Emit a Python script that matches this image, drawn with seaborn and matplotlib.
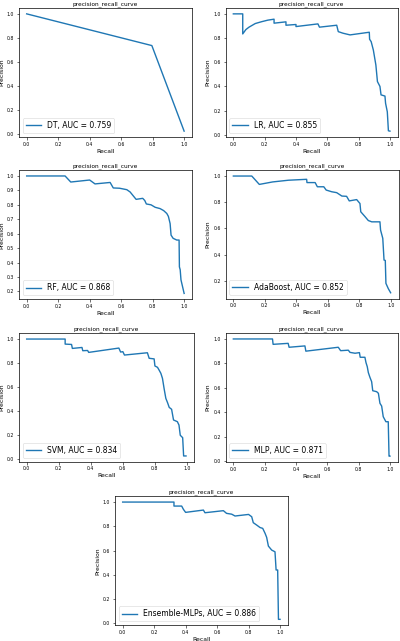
import matplotlib
matplotlib.use("Agg")
import matplotlib.pyplot as plt
import seaborn as sns
import pandas as pd

models = ["DT", "LR", "RF", "AdaBoost", "SVM", "MLP", "Ensemble-MLPs"]
aucs = [0.759, 0.855, 0.868, 0.852, 0.834, 0.871, 0.886]

dt_rec = [0.0, 0.795, 1.0]
dt_prec = [1.0, 0.735, 0.02]

lr_rec = [0.0, 0.06, 0.06, 0.08, 0.10, 0.14, 0.18, 0.22, 0.26, 0.26, 0.336, 0.336, 0.40, 0.40,
          0.54, 0.55, 0.66, 0.67, 0.70, 0.745, 0.868, 0.87, 0.88, 0.894, 0.91, 0.92, 0.936,
          0.943, 0.968, 0.972, 0.983, 0.99, 1.0]
lr_prec = [1.0, 1.0, 0.834, 0.87, 0.89, 0.92, 0.935, 0.948, 0.956, 0.923, 0.934, 0.906, 0.912, 0.895,
           0.917, 0.89, 0.906, 0.853, 0.84, 0.826, 0.848, 0.79, 0.77, 0.70, 0.577, 0.44, 0.40,
           0.33, 0.32, 0.26, 0.19, 0.033, 0.03]

rf_rec = [0.0, 0.244, 0.28, 0.40, 0.434, 0.53, 0.55, 0.59, 0.636, 0.657, 0.695, 0.737, 0.75, 0.76,
          0.79, 0.816, 0.847, 0.87, 0.89, 0.90, 0.911, 0.917, 0.93, 0.953, 0.968, 0.97, 0.975, 0.98, 1.0]
rf_prec = [1.0, 1.0, 0.958, 0.972, 0.945, 0.955, 0.917, 0.915, 0.905, 0.889, 0.838, 0.845, 0.83, 0.806,
           0.80, 0.783, 0.774, 0.76, 0.74, 0.72, 0.67, 0.59, 0.568, 0.556, 0.556, 0.37, 0.35, 0.28, 0.186]

ada_rec = [0.0, 0.117, 0.165, 0.25, 0.35, 0.466, 0.468, 0.52, 0.534, 0.575, 0.59, 0.625, 0.657, 0.69,
           0.72, 0.737, 0.784, 0.805, 0.81, 0.837, 0.858, 0.88, 0.932, 0.936, 0.95, 0.958, 0.966,
           0.97, 0.985, 1.0]
ada_prec = [1.0, 1.0, 0.936, 0.955, 0.968, 0.975, 0.95, 0.95, 0.918, 0.918, 0.893, 0.88, 0.873, 0.847,
            0.845, 0.81, 0.82, 0.79, 0.727, 0.69, 0.66, 0.65, 0.65, 0.587, 0.524, 0.358, 0.355,
            0.18, 0.14, 0.108]

svm_rec = [0.0, 0.24, 0.24, 0.28, 0.285, 0.345, 0.35, 0.38, 0.387, 0.575, 0.586, 0.60, 0.61, 0.753,
           0.764, 0.795, 0.80, 0.816, 0.826, 0.837, 0.847, 0.858, 0.868, 0.879, 0.889, 0.904, 0.916,
           0.94, 0.95, 0.958, 0.973, 0.979, 0.994]
svm_prec = [1.0, 1.0, 0.958, 0.955, 0.922, 0.93, 0.903, 0.905, 0.889, 0.925, 0.892, 0.895, 0.867, 0.886,
            0.84, 0.835, 0.776, 0.765, 0.742, 0.715, 0.673, 0.582, 0.507, 0.47, 0.432, 0.416, 0.327,
            0.313, 0.285, 0.20, 0.18, 0.028, 0.028]

mlp_rec = [0.0, 0.25, 0.254, 0.35, 0.356, 0.457, 0.463, 0.67, 0.685, 0.734, 0.745, 0.777, 0.805, 0.81,
           0.84, 0.847, 0.855, 0.862, 0.872, 0.883, 0.89, 0.915, 0.926, 0.936, 0.947, 0.957, 0.974,
           0.989, 0.994, 1.0]
mlp_prec = [1.0, 1.0, 0.956, 0.964, 0.932, 0.943, 0.90, 0.932, 0.904, 0.908, 0.89, 0.883, 0.888, 0.85,
            0.85, 0.806, 0.773, 0.724, 0.686, 0.65, 0.576, 0.568, 0.555, 0.473, 0.45, 0.363, 0.322,
            0.322, 0.04, 0.04]

ens_rec = [0.0, 0.326, 0.326, 0.375, 0.386, 0.40, 0.513, 0.523, 0.64, 0.66, 0.693, 0.714, 0.80, 0.82,
           0.83, 0.852, 0.873, 0.89, 0.905, 0.915, 0.926, 0.947, 0.968, 0.975, 0.985, 0.99, 1.0]
ens_prec = [1.0, 1.0, 0.967, 0.967, 0.94, 0.915, 0.934, 0.912, 0.929, 0.907, 0.90, 0.885, 0.898, 0.879,
            0.83, 0.81, 0.79, 0.783, 0.742, 0.709, 0.637, 0.604, 0.59, 0.44, 0.44, 0.033, 0.033]

curves = [(dt_rec, dt_prec), (lr_rec, lr_prec), (rf_rec, rf_prec), (ada_rec, ada_prec),
          (svm_rec, svm_prec), (mlp_rec, mlp_prec), (ens_rec, ens_prec)]

yticks = [
    [0.0, 0.2, 0.4, 0.6, 0.8, 1.0],
    [0.0, 0.2, 0.4, 0.6, 0.8, 1.0],
    [0.2, 0.3, 0.4, 0.5, 0.6, 0.7, 0.8, 0.9, 1.0],
    [0.2, 0.4, 0.6, 0.8, 1.0],
    [0.0, 0.2, 0.4, 0.6, 0.8, 1.0],
    [0.0, 0.2, 0.4, 0.6, 0.8, 1.0],
    [0.0, 0.2, 0.4, 0.6, 0.8, 1.0],
]
xticks = [0.0, 0.2, 0.4, 0.6, 0.8, 1.0]

fig = plt.figure(figsize=(4.0, 6.41), dpi=100)
W, H = 400.0, 641.0
# axes boxes in pixels: left, top, right, bottom
boxes = [
    (18.8, 8.0, 192.0, 137.0),
    (225.5, 8.0, 397.8, 137.0),
    (18.8, 170.1, 192.0, 299.3),
    (225.5, 170.2, 398.5, 298.6),
    (18.7, 333.2, 194.0, 461.8),
    (225.5, 333.1, 397.8, 462.0),
    (114.8, 496.2, 287.9, 625.2),
]

for i, (name, auc) in enumerate(zip(models, aucs)):
    l, t, r, b = boxes[i]
    ax = fig.add_axes([l / W, (H - b) / H, (r - l) / W, (b - t) / H])
    rec, prec = curves[i]
    df = pd.DataFrame({"Recall": rec, "Precision": prec})
    sns.lineplot(data=df, x="Recall", y="Precision", ax=ax, sort=False, estimator=None,
                 color="#1f77b4", linewidth=1.0, label=f"{name}, AUC = {auc:.3f}")
    ax.set_xticks(xticks)
    ax.set_yticks(yticks[i])
    ax.tick_params(labelsize=3.3, length=1.8, width=0.4, pad=1.5)
    ax.set_xlabel("Recall", fontsize=4.4, labelpad=1.5)
    ax.set_ylabel("Precision", fontsize=4.4, labelpad=2)
    ax.set_title("precision_recall_curve", fontsize=4.2, pad=2)
    for s in ax.spines.values():
        s.set_linewidth(0.5)
    ax.legend(loc="lower left", fontsize=5.5, frameon=True, handlelength=2.0,
              borderpad=0.4, fancybox=True).get_frame().set_linewidth(0.4)

fig.savefig("out.png", dpi=100)
